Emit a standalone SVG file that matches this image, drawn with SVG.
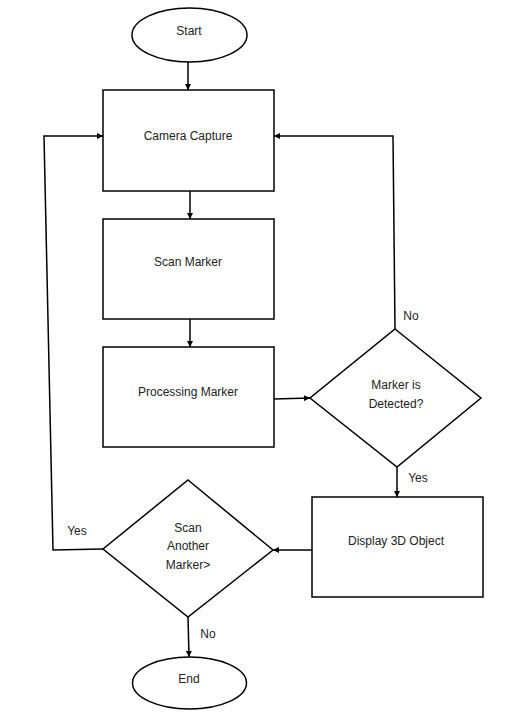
<svg xmlns="http://www.w3.org/2000/svg" width="507" height="726" viewBox="0 0 507 726">
<style>
.s{fill:#fff;stroke:#000;stroke-width:1.5}
.t{font-family:"Liberation Sans",Arial,sans-serif;font-size:12px;fill:#222;text-anchor:middle}
.c{fill:none;stroke:#000;stroke-width:1.5}
</style>
<defs>
<marker id="a" viewBox="0 0 10 10" refX="10" refY="5" markerWidth="6" markerHeight="6" markerUnits="userSpaceOnUse" orient="auto">
<path d="M0,0L10,5L0,10z" fill="#000"/>
</marker>
</defs>
<rect width="507" height="726" fill="#fff"/>
<g id="connectors">
<line class="c" x1="188" y1="62" x2="188" y2="90" marker-end="url(#a)"/>
<line class="c" x1="190" y1="191" x2="190" y2="219" marker-end="url(#a)"/>
<line class="c" x1="190" y1="319" x2="190" y2="347" marker-end="url(#a)"/>
<line class="c" x1="274" y1="399" x2="310" y2="398" marker-end="url(#a)"/>
<polyline class="c" points="395,329 393,136 274,136" marker-end="url(#a)"/>
<line class="c" x1="397" y1="467" x2="397" y2="497" marker-end="url(#a)"/>
<line class="c" x1="312" y1="550" x2="273" y2="550" marker-end="url(#a)"/>
<polyline class="c" points="103,549 53,550 44,136 103,136" marker-end="url(#a)"/>
<line class="c" x1="188" y1="617" x2="189" y2="657" marker-end="url(#a)"/>
<text class="t" x="411" y="320">No</text>
<text class="t" x="418" y="482">Yes</text>
<text class="t" x="77" y="535">Yes</text>
<text class="t" x="208" y="638">No</text>
</g>
<g id="start">
<ellipse class="s" cx="189.5" cy="35" rx="57.5" ry="27"/>
<text class="t" x="189" y="35">Start</text>
</g>
<g id="camera">
<rect class="s" x="103" y="90" width="171" height="101"/>
<text class="t" x="188" y="140">Camera Capture</text>
</g>
<g id="scan">
<rect class="s" x="103" y="219" width="171" height="100"/>
<text class="t" x="188" y="266">Scan Marker</text>
</g>
<g id="processing">
<rect class="s" x="103" y="347" width="171" height="100"/>
<text class="t" x="188" y="396">Processing Marker</text>
</g>
<g id="detected">
<polygon class="s" points="395,329 481,398 397,467 310,398"/>
<text class="t" x="396" y="389">Marker is</text>
<text class="t" x="396" y="408">Detected?</text>
</g>
<g id="display">
<rect class="s" x="312" y="497" width="171" height="100"/>
<text class="t" x="396" y="545">Display 3D Object</text>
</g>
<g id="another">
<polygon class="s" points="188,480 273,550 188,617 103,549"/>
<text class="t" x="188" y="532">Scan</text>
<text class="t" x="188" y="550">Another</text>
<text class="t" x="188" y="569">Marker&gt;</text>
</g>
<g id="end">
<ellipse class="s" cx="189.5" cy="683" rx="57" ry="26"/>
<text class="t" x="189" y="683">End</text>
</g>
</svg>
